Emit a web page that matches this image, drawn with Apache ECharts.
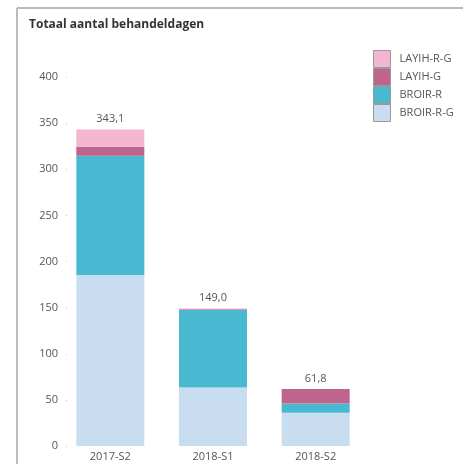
<!DOCTYPE html>
<html>
<head>
<meta charset="utf-8">
<script src="https://cdn.jsdelivr.net/npm/echarts@6/dist/echarts.min.js"></script>
<style>
  html, body { margin: 0; padding: 0; background: #fff; }
  #chart { width: 464px; height: 464px; }
</style>
</head>
<body>
<div id="chart"></div>
<script>
var categories = ['2017-S2', '2018-S1', '2018-S2']
var broirRG = [185.5, 63.5, 36.0]
var broirR = [129.2, 84.0, 10.0]
var layihG = [9.8, 0.8, 15.8]
var layihRG = [18.6, 0.7, 0]
var totals = [343.1, 149.0, 61.8]
var legendNames = ['LAYIH-R-G', 'LAYIH-G', 'BROIR-R', 'BROIR-R-G']

var font = '"Open Sans", sans-serif'

function part(name, values, color) {
    return {
        name: name,
        type: 'bar',
        stack: 'tot',
        barWidth: 68,
        data: values,
        itemStyle: { color: color }
    }
}

var series = [
    part('BROIR-R-G', broirRG, '#c9ddf1'),
    part('BROIR-R', broirR, '#48b9d0'),
    part('LAYIH-G', layihG, '#bf648d'),
    part('LAYIH-R-G', layihRG, '#f3b6d0'),
    {
        name: 'Totaal',
        type: 'bar',
        stack: 'tot',
        barWidth: 68,
        data: totals.map(function () { return 0 }),
        label: {
            show: true,
            position: 'top',
            distance: 5,
            color: '#555',
            fontSize: 11,
            fontFamily: font,
            formatter: function (p) {
                return totals[p.dataIndex].toFixed(1).replace('.', ',')
            }
        }
    }
]

var option = {
    animation: false,
    textStyle: { fontFamily: font },
    title: {
        text: 'Totaal aantal behandeldagen',
        left: 24,
        top: 14,
        textStyle: { fontSize: 12, fontWeight: 'bold', color: '#333', fontFamily: font }
    },
    graphic: [
        { type: 'line', shape: { x1: 17, y1: 8, x2: 463, y2: 8 }, style: { stroke: '#bbb', lineWidth: 2 } },
        { type: 'line', shape: { x1: 17, y1: 8, x2: 17, y2: 464 }, style: { stroke: '#bbb', lineWidth: 2 } }
    ],
    legend: {
        data: legendNames,
        orient: 'vertical',
        left: 373,
        top: 50,
        padding: 0,
        itemWidth: 17,
        itemHeight: 17,
        itemGap: 0,
        icon: 'rect',
        itemStyle: { borderColor: '#999', borderWidth: 1 },
        textStyle: { color: '#555', fontSize: 11, fontFamily: font, padding: [0, 0, 0, 4] }
    },
    grid: { left: 59, right: 97, top: 77, bottom: 18 },
    xAxis: {
        type: 'category',
        data: categories,
        axisLine: { show: false },
        axisTick: { show: false },
        axisLabel: { color: '#555', fontSize: 11, margin: 5, fontFamily: font }
    },
    yAxis: {
        type: 'value',
        min: 0,
        max: 400,
        interval: 50,
        offset: -8,
        axisLine: { show: false },
        axisTick: { show: true, length: 1, lineStyle: { color: '#ccc' } },
        splitLine: { show: false },
        axisLabel: { color: '#555', fontSize: 11, margin: 9, fontFamily: font }
    },
    series: series
}

var chart = echarts.init(document.getElementById('chart'))
chart.setOption(option)
</script>
</body>
</html>
